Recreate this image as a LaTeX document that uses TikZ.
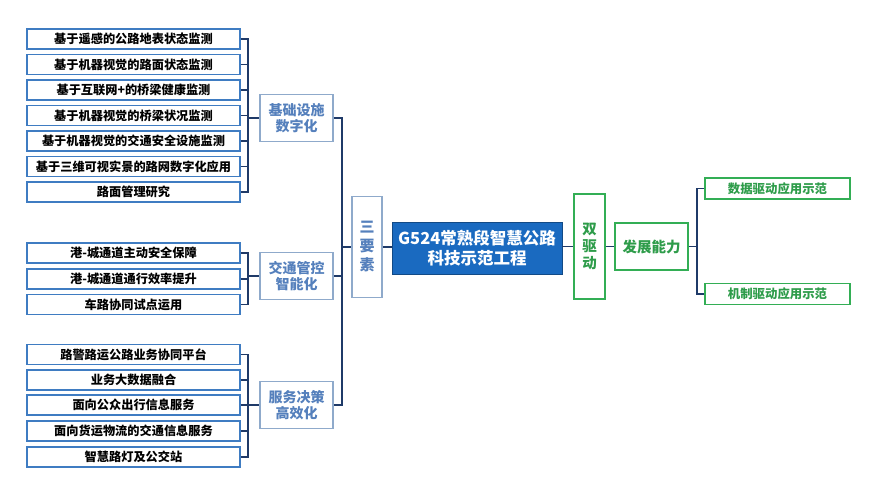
\documentclass[tikz,border=0pt]{standalone}
\usepackage{fontspec}
\setmainfont{Noto Sans CJK SC}
\usetikzlibrary{positioning}

\definecolor{itemblue}{HTML}{3F7CC2}
\definecolor{grpline}{HTML}{8FAACB}
\definecolor{grptext}{HTML}{5580BC}
\definecolor{navy}{HTML}{1F3A68}
\definecolor{mainblue}{HTML}{1A6AC0}
\definecolor{drvgreen}{HTML}{33AE55}
\definecolor{drvtext}{HTML}{2E9C4A}

\tikzset{
  item/.style={draw=itemblue, line width=1.8pt, fill=white, minimum width=213pt,
    minimum height=20pt, inner sep=0pt, font=\fontsize{12.2}{14}\selectfont\bfseries},
  grpbox/.style={draw=grpline, line width=1.5pt, minimum width=73pt, minimum height=47pt,
    inner sep=0pt, align=center, text=grptext, font=\fontsize{14}{16}\selectfont\bfseries},
  drvbox/.style={draw=drvgreen, line width=1.8pt, inner sep=0pt, align=center,
    text=drvtext, font=\fontsize{14.5}{17}\selectfont\bfseries},
  conn/.style={draw=navy, line width=1.4pt},
}

\begin{document}
\begin{tikzpicture}[x=1pt, y=-1pt]
\useasboundingbox (0,0) rectangle (874,480);

% left column, group 1
\foreach \n/\y/\t in {1/39/基于遥感的公路地表状态监测, 2/64.5/基于机器视觉的路面状态监测,
    3/90/基于互联网+的桥梁健康监测, 4/115.5/基于机器视觉的桥梁状况监测,
    5/141/基于机器视觉的交通安全设施监测, 6/166.5/基于三维可视实景的路网数字化应用,
    7/192/路面管理研究}
  \node [item] (a\n) at (133.5,\y) {\t};
% group 2
\foreach \n/\y/\t in {1/253/港-城通道主动安全保障, 2/279/港-城通道通行效率提升,
    3/304.5/车路协同试点运用}
  \node [item] (b\n) at (133.5,\y) {\t};
% group 3
\foreach \n/\y/\t in {1/354.5/路警路运公路业务协同平台, 2/380/业务大数据融合,
    3/405/面向公众出行信息服务, 4/431/面向货运物流的交通信息服务,
    5/457/智慧路灯及公交站}
  \node [item] (c\n) at (133.5,\y) {\t};

\node [grpbox] (ga) at (296.5,118) {基础设施\\数字化};
\node [grpbox] (gb) at (296.5,276) {交通管控\\智能化};
\node [grpbox] (gc) at (296.5,405) {服务决策\\高效化};

\coordinate (ka) at (248,118);
\coordinate (kb) at (248,276);
\coordinate (kc) at (248,405);
\foreach \n in {1,...,7} \draw [conn] (a\n.east) -| (ka);
\foreach \n in {1,...,3} \draw [conn] (b\n.east) -| (kb);
\foreach \n in {1,...,5} \draw [conn] (c\n.east) -| (kc);
\draw [conn] (ka) -- (ga.west);
\draw [conn] (kb) -- (gb.west);
\draw [conn] (kc) -- (gc.west);

% middle
\node [draw=grpline, line width=1.5pt, minimum width=30pt, minimum height=101pt, inner sep=0pt,
  align=center, text=grptext, font=\fontsize{15}{19}\selectfont\bfseries] (sys) at (367,247) {三\\要\\素};
\node [fill=mainblue, draw=mainblue!70!black, line width=0.8pt, minimum width=170pt, minimum height=52pt,
  inner sep=0pt, align=center, text=white, font=\fontsize{16.5}{20}\selectfont\bfseries] (main) at (477,248)
  {G524常熟段智慧公路\\科技示范工程};

\coordinate (sp) at (342,247);
\draw [conn] (ga.east) -| (sp);
\draw [conn] (gb.east) -| (sp);
\draw [conn] (gc.east) -| (sp);
\draw [conn] (sp) -- (sys.west);
\draw [conn] (sys.east) -- (sys.east -| main.west);

% right side
\node [drvbox, minimum width=31pt, minimum height=105pt] (drv) at (589.5,246.5) {双\\驱\\动};
\node [drvbox, minimum width=73pt, minimum height=47pt] (cap) at (651.5,246.5) {发展能力};
\node [drvbox, minimum width=145pt, minimum height=21pt, font=\fontsize{12.4}{14}\selectfont\bfseries]
  (r1) at (777.5,188.5) {数据驱动应用示范};
\node [drvbox, minimum width=145pt, minimum height=21pt, font=\fontsize{12.4}{14}\selectfont\bfseries]
  (r2) at (777.5,294) {机制驱动应用示范};

\draw [conn] (main.east |- drv.west) -- (drv.west);
\draw [conn] (drv.east) -- (cap.west);
\coordinate (kr) at (697,246.5);
\draw [conn] (cap.east) -- (kr);
\draw [conn] (r1.west) -| (kr);
\draw [conn] (r2.west) -| (kr);
\end{tikzpicture}
\end{document}
